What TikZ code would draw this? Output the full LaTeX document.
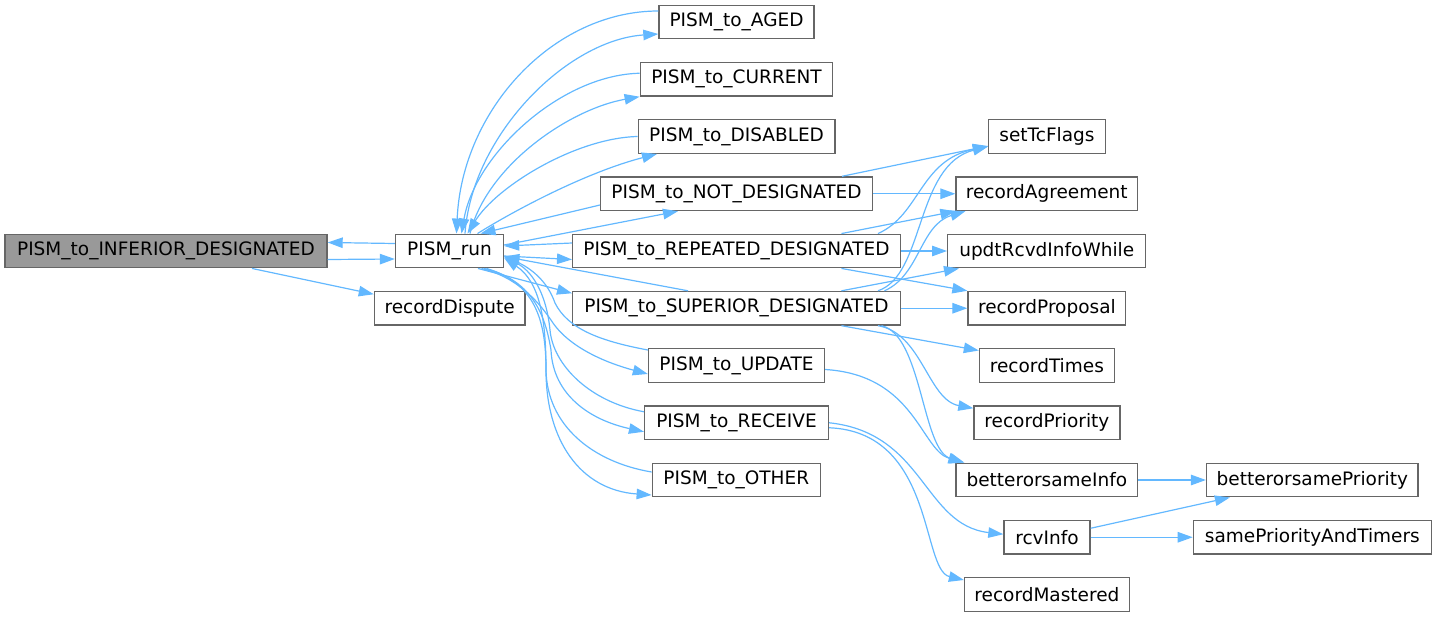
\documentclass[tikz,border=0pt]{standalone}
\usepackage{fontspec}
\setmainfont{DejaVu Sans}
\usetikzlibrary{arrows.meta}
\definecolor{edgeblue}{HTML}{63B8FF}
\definecolor{boxgray}{HTML}{666666}
\definecolor{rootfill}{HTML}{999999}
\begin{document}
\begin{tikzpicture}[x=1pt,y=-1pt,
  fn/.style={draw=boxgray, line width=1.4pt, fill=white, minimum height=33.5pt, inner sep=0pt,
    font=\fontsize{18.5}{22}\selectfont, text=black},
  e/.style={draw=edgeblue, line width=1.2pt, -{Triangle[length=15pt,width=10.5pt]}}]
\useasboundingbox (0,0) rectangle (1436,618);
% nodes
\node[fn, fill=rootfill, minimum width=322pt] (inf) at (166,251) {PISM\_to\_INFERIOR\_DESIGNATED};
\node[fn, minimum width=108pt] (run) at (449.5,251) {PISM\_run};
\node[fn, minimum width=150.5pt] (rdisp) at (449.7,308.25) {recordDispute};
\node[fn, minimum width=155pt] (aged) at (736.5,22) {PISM\_to\_AGED};
\node[fn, minimum width=192.4pt] (cur) at (736.5,79.25) {PISM\_to\_CURRENT};
\node[fn, minimum width=196.7pt] (dis) at (736.6,136.5) {PISM\_to\_DISABLED};
\node[fn, minimum width=271.6pt] (notd) at (736.5,193.75) {PISM\_to\_NOT\_DESIGNATED};
\node[fn, minimum width=327.6pt] (rep) at (736.5,251) {PISM\_to\_REPEATED\_DESIGNATED};
\node[fn, minimum width=327.6pt] (sup) at (736.5,308.25) {PISM\_to\_SUPERIOR\_DESIGNATED};
\node[fn, minimum width=176pt] (upd) at (736.5,365.5) {PISM\_to\_UPDATE};
\node[fn, minimum width=183.7pt] (recv) at (736.5,422.75) {PISM\_to\_RECEIVE};
\node[fn, minimum width=168pt] (oth) at (736.3,480) {PISM\_to\_OTHER};
\node[fn, minimum width=116.7pt] (stc) at (1047,136.5) {setTcFlags};
\node[fn, minimum width=181.5pt] (ragr) at (1046.8,193.75) {recordAgreement};
\node[fn, minimum width=198pt] (urw) at (1046.7,251) {updtRcvdInfoWhile};
\node[fn, minimum width=157.7pt] (rprop) at (1046.9,308.25) {recordProposal};
\node[fn, minimum width=134.8pt] (rtimes) at (1046.9,365.5) {recordTimes};
\node[fn, minimum width=145.8pt] (rprio) at (1046.9,422.75) {recordPriority};
\node[fn, minimum width=181.5pt] (bsi) at (1046.8,480) {betterorsameInfo};
\node[fn, minimum width=211.4pt] (bsp) at (1312.3,480) {betterorsamePriority};
\node[fn, minimum width=86pt] (rcv) at (1047,537.25) {rcvInfo};
\node[fn, minimum width=238pt] (spt) at (1312.4,537.25) {samePriorityAndTimers};
\node[fn, minimum width=164.6pt] (rmast) at (1046.9,594.5) {recordMastered};
% edges around PISM_run
\draw[e] ([shift={(0,-7.5)}]run.west) -- ([shift={(0,-8.5)}]inf.east);
\draw[e] ([shift={(0,8.5)}]inf.east) -- ([shift={(0,8)}]run.west);
\draw[e] ([shift={(86,0)}]inf.south) -- ([shift={(0,-14)}]rdisp.west);
\draw[e] ([shift={(0,-11)}]aged.west) .. controls (553,11) and (462,110) .. ([shift={(7,0)}]run.north);
\draw[e] ([shift={(15.5,0)}]run.north) .. controls (472,135) and (567,40) .. ([shift={(0,12)}]aged.west);
\draw[e] ([shift={(0,-6)}]cur.west) .. controls (560,75) and (475,155) .. ([shift={(12,0)}]run.north);
\draw[e] ([shift={(20.5,0)}]run.north) .. controls (487,165) and (570,109) .. (cur.south west);
\draw[e] (dis.west) .. controls (575,138) and (496,187) .. ([shift={(18,0)}]run.north);
\draw[e] ([shift={(28,0)}]run.north) .. controls (515,210) and (587,172) .. ([shift={(-79.6,0)}]dis.south);
\draw[e] ([shift={(0,11.25)}]notd.west) -- ([shift={(31,0)}]run.north);
\draw[e] ([shift={(0,-6)}]run.east) -- ([shift={(-58.5,0)}]notd.south);
\draw[e] ([shift={(0,-8)}]rep.west) -- ([shift={(0,-5)}]run.east);
\draw[e] ([shift={(0,5)}]run.east) -- ([shift={(0,8.5)}]rep.west);
\draw[e] ([shift={(-48.5,0)}]sup.north) -- ([shift={(0,5.5)}]run.east);
\draw[e] ([shift={(28.5,0)}]run.south) -- ([shift={(0,-15)}]sup.west);
\draw[e] ([shift={(32,0)}]run.south) .. controls (520,278) and (541,305) .. (553,323)
  .. controls (571,348.8) and (608.5,363.5) .. ([shift={(0,8.5)}]upd.west);
\draw[e] ([shift={(0,-15.5)}]upd.west) .. controls (600,341) and (568,329) .. (555,303)
  .. controls (547,280) and (530,268) .. ([shift={(0,5)}]run.east);
\draw[e] ([shift={(34.5,0)}]run.south) .. controls (535,280) and (546,320) .. (551,350)
  .. controls (553,395) and (590,420) .. ([shift={(0,9)}]recv.west);
\draw[e] ([shift={(0,-11)}]recv.west) .. controls (590,402) and (553,365) .. (550,330)
  .. controls (546,290) and (530,270) .. ([shift={(0,6)}]run.east);
\draw[e] ([shift={(37,0)}]run.south) .. controls (535,283) and (546,320) .. (546,370)
  .. controls (546,440) and (580,490) .. ([shift={(0,15)}]oth.west);
\draw[e] ([shift={(0,-8)}]oth.west) .. controls (592,462) and (547,425) .. (546,370)
  .. controls (546,320) and (540,282) .. ([shift={(0,7)}]run.east);
% right side edges
\draw[e] ([shift={(105.5,0)}]notd.north) -- ([shift={(0,9.5)}]stc.west);
\draw[e] (notd.east) -- (ragr.west);
\draw[e] ([shift={(141.5,0)}]rep.north) .. controls (920,215) and (920,160) .. ([shift={(0,10)}]stc.west);
\draw[e] ([shift={(105,0)}]rep.north) -- (ragr.south west);
\draw[e] (rep.east) -- (urw.west);
\draw[e] ([shift={(105,0)}]rep.south) -- (rprop.north west);
\draw[e] ([shift={(141.5,0)}]sup.north) .. controls (925,275) and (915,165) .. ([shift={(0,10)}]stc.west);
\draw[e] ([shift={(148,0)}]sup.north) .. controls (920,275) and (920,225) .. ([shift={(10,0)}]ragr.south west);
\draw[e] ([shift={(105,0)}]sup.north) -- ([shift={(12,0)}]urw.south west);
\draw[e] (sup.east) -- (rprop.west);
\draw[e] ([shift={(105,0)}]sup.south) -- ([shift={(0,-15)}]rtimes.west);
\draw[e] ([shift={(141.5,0)}]sup.south) .. controls (922,333) and (928,400) .. ([shift={(0,-14.5)}]rprio.west);
\draw[e] ([shift={(145,0)}]sup.south) .. controls (922,335) and (922,450) .. ([shift={(9,0)}]bsi.north west);
\draw[e] ([shift={(0,4)}]upd.east) .. controls (915,375) and (921,450) .. ([shift={(8,0)}]bsi.north west);
\draw[e] (recv.east) .. controls (925,433) and (923,525) .. ([shift={(0,-3)}]rcv.west);
\draw[e] ([shift={(0,5)}]recv.east) .. controls (935,432) and (921,570) .. ([shift={(0,-14.5)}]rmast.west);
\draw[e] (bsi.east) -- (bsp.west);
\draw[e] ([shift={(0,-9)}]rcv.east) -- ([shift={(24,0)}]bsp.south west);
\draw[e] (rcv.east) -- (spt.west);
\end{tikzpicture}
\end{document}
